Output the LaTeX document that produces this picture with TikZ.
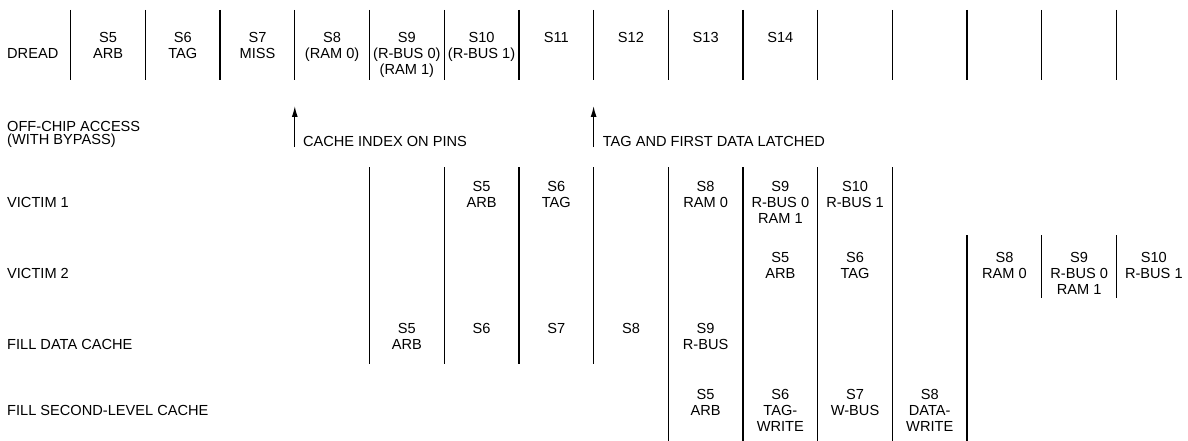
\documentclass[tikz,border=0pt]{standalone}
\usepackage{fontspec}
\setmainfont{Liberation Sans}
\usepackage{tikz}
\usetikzlibrary{arrows.meta}

\begin{document}
\begin{tikzpicture}[
  x=1pt, y=-1pt,
  cell/.style={anchor=north, align=center, inner sep=0pt,
               font=\fontsize{14.6}{16}\selectfont},
  lbl/.style={anchor=west, align=left, inner sep=0pt,
              font=\fontsize{14.6}{16}\selectfont},
  bar/.style={line width=1.3pt},
  arr/.style={-{Latex[length=11pt,width=6pt]}, line width=1.3pt},
]
\useasboundingbox (0,0) rectangle (1188,441);

% stage boundaries (one column = 74.7)
\foreach \k in {0,...,14} \draw[bar] ({70.7+74.7*\k},10) -- ({70.7+74.7*\k},80);
\foreach \k in {4,...,7}  \draw[bar] ({70.7+74.7*\k},167) -- ({70.7+74.7*\k},364);
\foreach \k in {8,...,11} \draw[bar] ({70.7+74.7*\k},167) -- ({70.7+74.7*\k},441);
\draw[bar] ({70.7+74.7*12},235) -- ({70.7+74.7*12},441);
\foreach \k in {13,14}    \draw[bar] ({70.7+74.7*\k},235) -- ({70.7+74.7*\k},298);

% row labels
\node[lbl] (Ldread) at (7,53) {DREAD};
\node[lbl, anchor=north west, font=\fontsize{14.6}{13.5}\selectfont] (Loff) at (7,121)
  {OFF-CHIP ACCESS\\(WITH BYPASS)};
\node[lbl] (Lvic1) at (7,202) {VICTIM 1};
\node[lbl] (Lvic2) at (7,273) {VICTIM 2};
\node[lbl] (Lfdc)  at (7,344) {FILL DATA CACHE};
\node[lbl] (Lfsc)  at (7,410) {FILL SECOND-LEVEL CACHE};

% stages of each row
\foreach \c/\t in {0/{S5\\ARB}, 1/{S6\\TAG}, 2/{S7\\MISS}, 3/{S8\\(RAM 0)},
                   4/{S9\\(R-BUS 0)\\(RAM 1)}, 5/{S10\\(R-BUS 1)}, 6/S11, 7/S12, 8/S13, 9/S14}
  \node[cell] (d\c) at ({70.7+74.7*(\c+0.5)},32) {\t};
\foreach \c/\t in {5/{S5\\ARB}, 6/{S6\\TAG}, 8/{S8\\RAM 0}, 9/{S9\\R-BUS 0\\RAM 1}, 10/{S10\\R-BUS 1}}
  \node[cell] (va\c) at ({70.7+74.7*(\c+0.5)},181) {\t};
\foreach \c/\t in {9/{S5\\ARB}, 10/{S6\\TAG}, 12/{S8\\RAM 0}, 13/{S9\\R-BUS 0\\RAM 1}, 14/{S10\\R-BUS 1}}
  \node[cell] (vb\c) at ({70.7+74.7*(\c+0.5)},252) {\t};
\foreach \c/\t in {4/{S5\\ARB}, 5/S6, 6/S7, 7/S8, 8/{S9\\R-BUS}}
  \node[cell] (fd\c) at ({70.7+74.7*(\c+0.5)},323) {\t};
\foreach \c/\t in {8/{S5\\ARB}, 9/{S6\\TAG-\\WRITE}, 10/{S7\\W-BUS}, 11/{S8\\DATA-\\WRITE}}
  \node[cell] (fs\c) at ({70.7+74.7*(\c+0.5)},389) {\t};

% off-chip events
\coordinate (pinsTail) at ({70.7+74.7*3},147);
\coordinate (pinsHead) at ({70.7+74.7*3},106);
\coordinate (latchTail) at ({70.7+74.7*7},147);
\coordinate (latchHead) at ({70.7+74.7*7},106);
\draw[arr] (pinsTail) -- (pinsHead);
\draw[arr] (latchTail) -- (latchHead);
\node[lbl] (pins)  at ({70.7+74.7*3+8},141) {CACHE INDEX ON PINS};
\node[lbl] (latch) at ({70.7+74.7*7+9},141) {TAG AND FIRST DATA LATCHED};
\end{tikzpicture}
\end{document}
